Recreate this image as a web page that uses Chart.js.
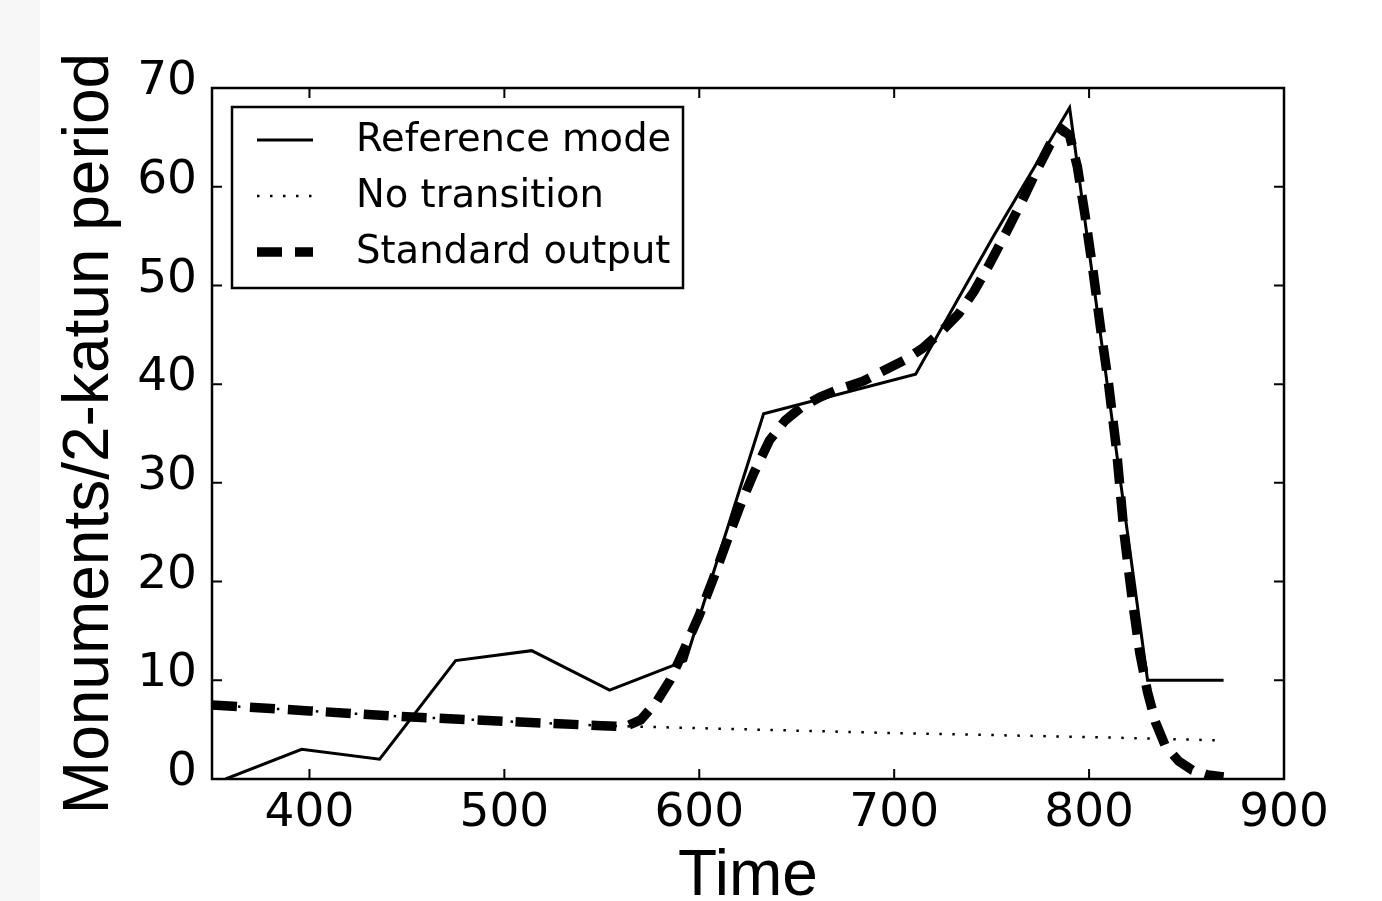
<!DOCTYPE html>
<html>
<head>
<meta charset="utf-8">
<script src="https://cdn.jsdelivr.net/npm/chart.js@4.4.0/dist/chart.umd.min.js"></script>
<style>
  html, body { margin: 0; padding: 0; background: #f7f7f7; overflow: hidden; }
  #wrap { position: absolute; left: 40px; top: 0; width: 1342px; height: 901px; background: #fff; }
</style>
</head>
<body>
<div id="wrap"><canvas id="myChart" width="1342" height="901"></canvas></div>
<script>
// one value per 2-katun period
const refTime = [357, 396, 436, 475, 514, 554, 593, 633, 672, 711, 751, 790, 830, 869];
const refMonuments = [0, 3, 2, 12, 13, 9, 12, 37, 39, 41, 55, 68, 10, 10];

const noTransTime = [350, 400, 450, 500, 550, 600, 650, 700, 750, 800, 850, 869];
const noTransMonuments = [7.5, 6.9, 6.3, 5.85, 5.4, 5.15, 4.9, 4.65, 4.45, 4.25, 4.0, 3.9];

const stdTime = [350, 400, 450, 500, 550, 562, 570, 578, 585, 592, 600, 607, 614, 621, 628, 636, 644, 652, 662, 672,
  684, 695, 705, 715, 724, 733, 741, 749, 757, 765, 773, 780, 786, 790, 794, 798, 802, 806, 810, 814,
  818, 822, 826, 830, 834, 839, 846, 853, 861, 869];
const stdMonuments = [7.5, 6.9, 6.3, 5.85, 5.4, 5.3, 6.0, 7.8, 10.0, 13.0, 16.6, 20.2, 24.0, 27.7, 31.0, 34.3, 36.3, 37.6, 38.7, 39.5,
  40.3, 41.4, 42.4, 43.7, 45.3, 47.1, 49.4, 52.2, 55.2, 58.3, 61.6, 64.3, 65.8, 65.2, 62.0, 57.0, 51.5, 45.5, 40.0, 33.5,
  24.8, 18.4, 12.8, 8.8, 5.8, 3.4, 1.8, 0.9, 0.4, 0.2];

const xTicks = [400, 500, 600, 700, 800, 900];
const yTicks = [0, 10, 20, 30, 40, 50, 60, 70];

const toPoints = (xs, ys) => xs.map((x, i) => ({x: x, y: ys[i]}));

// matplotlib style frame, inward ticks and boxed legend
const frameAndLegend = {
  id: 'frameAndLegend',
  afterDraw(chart) {
    const {ctx, chartArea: a, scales: {x, y}} = chart;
    ctx.save();
    ctx.strokeStyle = '#000';
    ctx.lineWidth = 2;
    ctx.beginPath();
    xTicks.forEach(v => {
      const px = x.getPixelForValue(v);
      ctx.moveTo(px, a.bottom); ctx.lineTo(px, a.bottom - 10);
      ctx.moveTo(px, a.top); ctx.lineTo(px, a.top + 10);
    });
    yTicks.forEach(v => {
      const py = y.getPixelForValue(v);
      ctx.moveTo(a.left, py); ctx.lineTo(a.left + 10, py);
      ctx.moveTo(a.right, py); ctx.lineTo(a.right - 10, py);
    });
    ctx.stroke();
    ctx.lineWidth = 2.5;
    ctx.strokeRect(a.left, a.top, a.width, a.height);

    const lx = a.left + 20, ly = a.top + 19;
    ctx.fillStyle = '#fff';
    ctx.fillRect(lx, ly, 451, 181);
    ctx.strokeRect(lx, ly, 451, 181);
    ctx.font = '38.5px "DejaVu Sans"';
    ctx.textBaseline = 'middle';
    ctx.fillStyle = '#000';
    chart.data.datasets.forEach((ds, i) => {
      const cy = ly + 33 + i * 56;
      ctx.setLineDash(ds.borderDash || []);
      ctx.lineWidth = ds.borderWidth;
      ctx.lineCap = 'butt';
      ctx.beginPath();
      ctx.moveTo(lx + 25, cy);
      ctx.lineTo(lx + 81, cy);
      ctx.stroke();
      ctx.setLineDash([]);
      ctx.fillText(ds.label, lx + 124, cy + 1);
    });
    ctx.restore();
  }
};

const ctx = document.getElementById('myChart').getContext('2d');
new Chart(ctx, {
  type: 'line',
  data: {
    datasets: [{
      label: 'Reference mode',
      data: toPoints(refTime, refMonuments),
      borderColor: '#000',
      borderWidth: 3,
      order: 3
    }, {
      label: 'No transition',
      data: toPoints(noTransTime, noTransMonuments),
      borderColor: '#000',
      borderWidth: 2.5,
      borderDash: [2.5, 10.5],
      order: 2
    }, {
      label: 'Standard output',
      data: toPoints(stdTime, stdMonuments),
      borderColor: '#000',
      borderWidth: 9.5,
      borderDash: [25, 13],
      order: 1
    }]
  },
  options: {
    responsive: false,
    animation: false,
    devicePixelRatio: 1,
    layout: {padding: {left: 0, right: 98, top: 88, bottom: 0}},
    elements: {point: {radius: 0}, line: {tension: 0, fill: false}},
    plugins: {legend: {display: false}, tooltip: {enabled: false}},
    scales: {
      x: {
        type: 'linear',
        min: 350,
        max: 900,
        grid: {display: false, drawTicks: false},
        border: {display: false},
        afterBuildTicks: s => { s.ticks = xTicks.map(v => ({value: v})); },
        afterFit: s => { s.height = 122; },
        ticks: {color: '#000', padding: 7, maxRotation: 0, font: {family: 'DejaVu Sans', size: 47}},
        title: {display: true, text: 'Time', color: '#000', padding: {top: 0, bottom: -8},
          font: {family: 'Liberation Sans', size: 64, lineHeight: 1.0}}
      },
      y: {
        min: 0,
        max: 70,
        grid: {display: false, drawTicks: false},
        border: {display: false},
        afterBuildTicks: s => { s.ticks = yTicks.map(v => ({value: v})); },
        afterFit: s => { s.width = 172; },
        ticks: {color: '#000', padding: 15, labelOffset: -6, font: {family: 'DejaVu Sans', size: 47}},
        title: {display: true, text: 'Monuments/2-katun period', color: '#000', padding: {top: 12, bottom: 0},
          font: {family: 'Liberation Sans', size: 64, lineHeight: 1.2}}
      }
    }
  },
  plugins: [frameAndLegend]
});
</script>
</body>
</html>
